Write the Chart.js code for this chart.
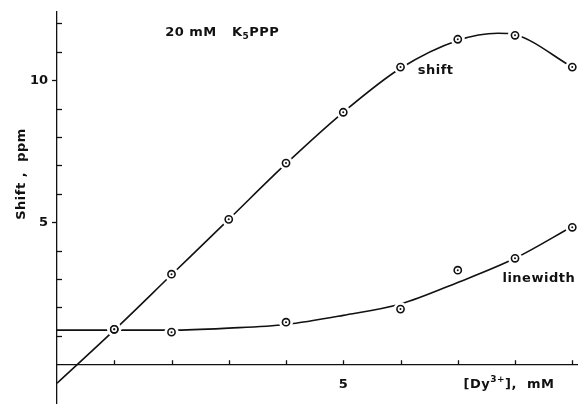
<!DOCTYPE html>
<html>
<head>
<meta charset="utf-8">
<script src="https://cdn.jsdelivr.net/npm/chart.js@4.4.1/dist/chart.umd.min.js"></script>
<style>
  html, body { margin: 0; padding: 0; background: #fff; }
  #wrap { width: 578px; height: 404px; }
</style>
</head>
<body>
<div id="wrap"><canvas id="c" width="578" height="404"></canvas></div>
<script>
// Measured data points (concentration of Dy3+ in mM)
const shiftConc = [1, 2, 3, 4, 5, 6, 7, 8, 9];
const shiftValues = [1.23, 3.17, 5.1, 7.08, 8.87, 10.46, 11.44, 11.58, 10.46];
const linewidthConc = [1, 2, 4, 6, 7, 8, 9];
const linewidthValues = [1.23, 1.13, 1.48, 1.94, 3.31, 3.73, 4.82];
// Hand-drawn fitted curves
const shiftCurveX = [0, 1, 2, 3, 4, 5, 6, 7, 7.7, 8, 9];
const shiftCurveY = [-0.67, 1.2, 3.15, 5.1, 7.06, 8.87, 10.42, 11.4, 11.65, 11.6, 10.46];
const lwCurveX = [0, 1, 2, 3, 4, 5, 6, 7, 8, 9];
const lwCurveY = [1.2, 1.2, 1.2, 1.27, 1.4, 1.72, 2.12, 2.88, 3.73, 4.85];
// Labelled ticks
const xTickLabels = [5];
const yTickLabels = [5, 10];

const pts = (xs, ys) => xs.map((x, i) => ({ x: x, y: ys[i] }));
const allMarkers = pts(shiftConc, shiftValues).concat(pts(linewidthConc, linewidthValues));

const FONT = '"DejaVu Sans", sans-serif';
const INK = '#111';

const annotations = {
  id: 'annotations',
  afterDraw(chart) {
    const ctx = chart.ctx;
    const xs = chart.scales.x, ys = chart.scales.y;
    const X = v => xs.getPixelForValue(v), Y = v => ys.getPixelForValue(v);
    ctx.save();
    ctx.strokeStyle = INK;
    ctx.lineWidth = 1.3;
    // y ticks: labelled ticks point outward, others inward
    for (let v = 1; v <= 12; v++) {
      const py = Math.round(Y(v)) + 0.5;
      ctx.beginPath();
      if (yTickLabels.includes(v)) { ctx.moveTo(X(0) - 5, py); ctx.lineTo(X(0), py); }
      else { ctx.moveTo(X(0), py); ctx.lineTo(X(0) + 5, py); }
      ctx.stroke();
    }
    // x ticks inward
    for (let v = 1; v <= 9; v++) {
      const px = Math.round(X(v)) + 0.5;
      ctx.beginPath();
      ctx.moveTo(px, Y(0)); ctx.lineTo(px, Y(0) - 4);
      ctx.stroke();
    }
    ctx.fillStyle = INK;
    ctx.textBaseline = 'alphabetic';
    ctx.textAlign = 'left';
    ctx.letterSpacing = '0.5px';
    const big = 'bold 13px ' + FONT, small = 'bold 9px ' + FONT;
    function run(parts, x, y) {
      let cx = x;
      parts.forEach(p => {
        ctx.font = p.f;
        ctx.fillText(p.t, cx, y + (p.dy || 0));
        cx += ctx.measureText(p.t).width;
      });
    }
    // header
    run([{t: '20 mM   K', f: big}, {t: '5', f: small, dy: 3}, {t: 'PPP', f: big}], X(1.89), Y(11.55));
    ctx.font = big;
    ctx.fillText('shift', X(6.3), Y(10.2));
    ctx.fillText('linewidth', X(7.78), Y(2.9));
    // x axis title
    run([{t: '[Dy', f: big}, {t: '3+', f: small, dy: -6}, {t: '],  mM', f: big}], X(7.1), Y(-0.85));
    // y axis title
    ctx.save();
    ctx.translate(25, 174);
    ctx.rotate(-Math.PI / 2);
    ctx.textAlign = 'center';
    ctx.font = big;
    ctx.fillText('Shift ,  ppm', 0, 0);
    ctx.restore();
    ctx.restore();
  }
};

const noPad = s => { s.paddingTop = 0; s.paddingBottom = 0; s.paddingLeft = 0; s.paddingRight = 0; };

new Chart(document.getElementById('c'), {
  type: 'scatter',
  data: {
    datasets: [
      { label: 'shift curve', data: pts(shiftCurveX, shiftCurveY), showLine: true, cubicInterpolationMode: 'monotone',
        borderColor: INK, borderWidth: 1.6, pointRadius: 0, order: 4 },
      { label: 'linewidth curve', data: pts(lwCurveX, lwCurveY), showLine: true, cubicInterpolationMode: 'monotone',
        borderColor: INK, borderWidth: 1.6, pointRadius: 0, order: 4 },
      { label: 'halo', data: allMarkers, pointRadius: 7, pointBorderWidth: 0,
        pointBackgroundColor: '#fff', pointBorderColor: '#fff', order: 3 },
      { label: 'shift', data: pts(shiftConc, shiftValues), pointRadius: 3.6, pointBorderWidth: 1.6,
        pointBackgroundColor: '#fff', pointBorderColor: INK, order: 2 },
      { label: 'linewidth', data: pts(linewidthConc, linewidthValues), pointRadius: 3.6, pointBorderWidth: 1.6,
        pointBackgroundColor: '#fff', pointBorderColor: INK, order: 2 },
      { label: 'dots', data: allMarkers, pointRadius: 1, pointBorderWidth: 0,
        pointBackgroundColor: INK, order: 1 }
    ]
  },
  options: {
    responsive: false,
    animation: false,
    events: [],
    layout: { autoPadding: false, padding: { top: 12, right: 0, bottom: 0, left: 0 } },
    plugins: { legend: { display: false }, tooltip: { enabled: false } },
    scales: {
      x: {
        type: 'linear', min: 0, max: 9.1,
        position: { y: 0 },
        afterFit: s => { s.height = 0; noPad(s); },
        grid: { display: false, drawTicks: false },
        border: { display: true, color: INK, width: 1.3 },
        ticks: {
          stepSize: 1, autoSkip: false, maxRotation: 0, padding: 13,
          color: INK, font: { family: FONT, size: 13, weight: 'bold' },
          callback: v => xTickLabels.includes(v) ? String(v) : ''
        }
      },
      y: {
        type: 'linear', min: -1.4, max: 12.4,
        position: 'left',
        afterFit: s => { s.width = 57; noPad(s); },
        grid: { display: false, drawTicks: false },
        border: { display: true, color: INK, width: 1.3 },
        ticks: {
          stepSize: 1, autoSkip: false, padding: 9,
          color: INK, font: { family: FONT, size: 13, weight: 'bold' },
          callback: v => yTickLabels.includes(v) ? String(v) : ''
        }
      }
    }
  },
  plugins: [annotations]
});
</script>
</body>
</html>
